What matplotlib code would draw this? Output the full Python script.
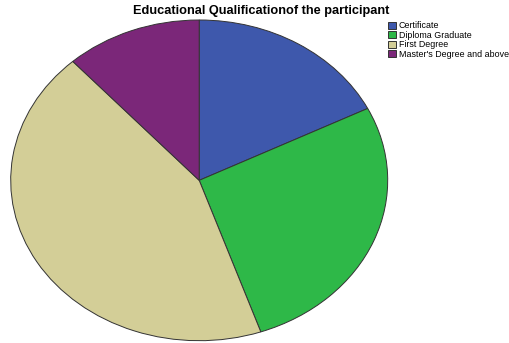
import matplotlib.pyplot as plt
import numpy as np

plt.rcParams['font.family'] = ['Liberation Sans', 'DejaVu Sans']

# data (percent of participants)
categories = ["Certificate", "Diploma Graduate", "First Degree", "Master's Degree and above"]
shares = [17.6, 27.1, 43.6, 11.7]
colors = ["#3E58AC", "#2EB848", "#D3CE97", "#7B2779"]

W, H = 509, 343
fig = plt.figure(figsize=(W / 100, H / 100), dpi=100)

# pie ellipse box in pixels: x 10.7..387.7, y 20..340.7 (from top)
left, right, top, bottom = 10.7, 387.7, 20.0, 340.7
ax = fig.add_axes([left / W, (H - bottom) / H, (right - left) / W, (bottom - top) / H])

wedges, _ = ax.pie(shares, colors=colors, startangle=90, counterclock=False,
                   wedgeprops=dict(edgecolor="#333333", linewidth=0.7))
for w in wedges:
    w.set_clip_on(False)
ax.set_aspect('auto')
ax.set_xlim(-1, 1)
ax.set_ylim(-1, 1)
ax.axis('off')

fig.text(261 / W, 1 - 11 / H, "Educational Qualificationof the participant",
         ha='center', va='center', fontsize=9.2, fontweight='bold')

fig.legend(wedges, categories, loc='upper left', bbox_to_anchor=(388 / W, 1 - 21.5 / H),
           frameon=False, fontsize=6.4, handlelength=0.95, handleheight=0.8,
           handletextpad=0.25, labelspacing=0.05, borderpad=0, borderaxespad=0)

plt.savefig("out.png", dpi=100)
